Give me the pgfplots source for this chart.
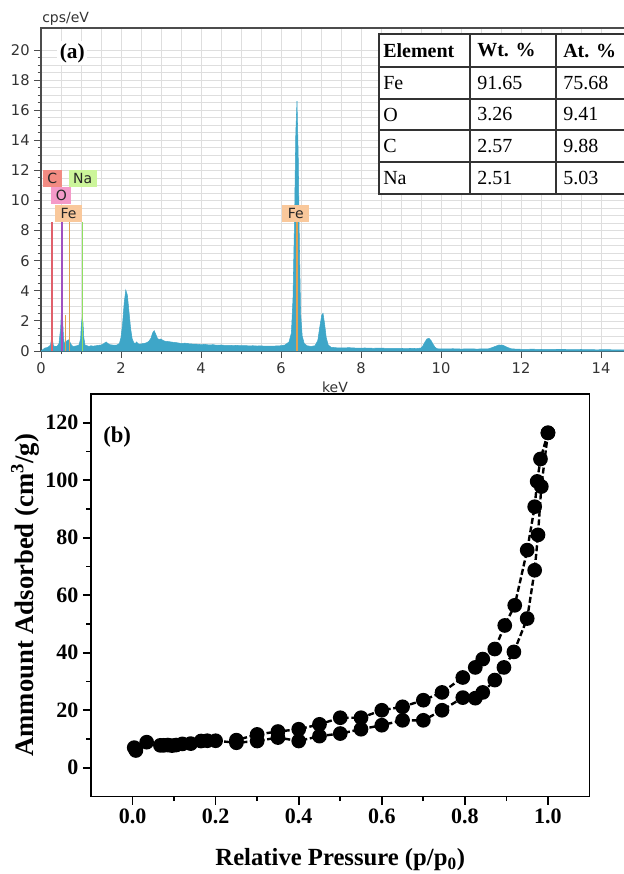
\documentclass[border=0pt]{standalone}
\usepackage{fontspec}
\setmainfont{Liberation Serif}
\newfontfamily\dv{DejaVu Sans}
\usepackage{pgfplots}
\pgfplotsset{compat=1.18}
\definecolor{spec}{HTML}{3EA6C8}
\definecolor{lnC}{HTML}{E0606A}
\definecolor{lnO}{HTML}{A050C0}
\definecolor{lnFe}{HTML}{E0A050}
\definecolor{lnNa}{HTML}{90E060}
\definecolor{bxC}{HTML}{F28B82}
\definecolor{bxO}{HTML}{F49AC8}
\definecolor{bxFe}{HTML}{F9C89B}
\definecolor{bxNa}{HTML}{CCF59A}
\definecolor{gridc}{HTML}{DEDEDE}

\begin{document}
\begin{tikzpicture}
\useasboundingbox (0,0) rectangle (468pt,-655.5pt);
\begin{scope}[x=0.75pt,y=-0.75pt]
  \coordinate (A) at (41,351);
  \coordinate (B) at (91,796.5);
\end{scope}

% ---- (a) EDS spectrum
\begin{axis}[at={(A)},anchor=south west,scale only axis,
  width=442.5pt,height=242.25pt,
  xmin=0,xmax=14.75,ymin=0,ymax=21.46,
  xtick={0,2,...,14},ytick={0,2,...,20},
  minor x tick num=3,minor y tick num=3,
  tick align=outside,tick pos=left,
  major tick length=5pt,minor tick length=2.5pt,
  grid=both,grid style={gridc,line width=0.5pt},
  axis line style={draw=black!70,line width=0.9pt},
  every tick/.style={black!70,line width=0.7pt},
  tick label style={font=\dv\fontsize{11}{12}\selectfont,text=black!80},
  /pgf/number format/assume math mode=true]
  \addplot[fill=spec,draw=spec,line width=0.4pt] coordinates {
    (0.00,0) (0.05,0.1) (0.10,0.2) (0.15,0.22) (0.20,0.3) (0.24,0.4)
    (0.26,0.8) (0.277,0.95) (0.29,0.7) (0.31,0.35) (0.35,0.3) (0.40,0.3)
    (0.45,0.5) (0.49,1.5) (0.51,2.6) (0.525,2.8) (0.54,2.2) (0.56,1.0)
    (0.58,0.5) (0.62,0.6) (0.66,0.7) (0.70,0.75) (0.72,0.6) (0.76,0.4)
    (0.80,0.3) (0.85,0.32) (0.90,0.35) (0.95,0.4) (0.99,0.8) (1.01,1.8)
    (1.03,2.2) (1.05,1.9) (1.07,0.9) (1.10,0.4) (1.15,0.35) (1.20,0.3)
    (1.25,0.35) (1.30,0.32) (1.35,0.34) (1.40,0.36) (1.45,0.38) (1.50,0.4)
    (1.55,0.45) (1.60,0.55) (1.63,0.6) (1.67,0.5) (1.72,0.42) (1.78,0.4)
    (1.84,0.38) (1.90,0.4) (1.96,0.5) (2.00,0.9) (2.04,1.8) (2.08,3.2)
    (2.12,4.05) (2.16,3.7) (2.20,2.6) (2.24,1.5) (2.28,0.8) (2.32,0.55)
    (2.36,0.5) (2.39,0.6) (2.42,0.5) (2.46,0.45) (2.52,0.48) (2.58,0.5)
    (2.64,0.55) (2.70,0.65) (2.75,0.85) (2.79,1.2) (2.83,1.35) (2.87,1.1)
    (2.91,0.85) (2.95,0.75) (3.00,0.8) (3.05,0.7) (3.10,0.65) (3.2,0.62)
    (3.3,0.58) (3.4,0.55) (3.5,0.5) (3.6,0.52) (3.7,0.48) (3.8,0.46)
    (3.9,0.45) (4.0,0.42) (4.1,0.44) (4.2,0.4) (4.3,0.42) (4.4,0.38)
    (4.5,0.4) (4.6,0.37) (4.7,0.38) (4.8,0.36) (4.9,0.37) (5.0,0.35)
    (5.1,0.36) (5.2,0.34) (5.3,0.35) (5.4,0.33) (5.5,0.34) (5.6,0.32)
    (5.7,0.33) (5.8,0.32) (5.9,0.34) (6.0,0.35) (6.1,0.4) (6.2,0.6)
    (6.26,1.2) (6.30,3.5) (6.34,9.0) (6.37,14.5) (6.40,16.6) (6.43,13.0)
    (6.46,7.0) (6.49,2.5) (6.53,1.0) (6.58,0.5) (6.65,0.35) (6.75,0.3)
    (6.85,0.35) (6.92,0.7) (6.97,1.6) (7.02,2.4) (7.05,2.5) (7.09,1.8)
    (7.13,0.9) (7.18,0.4) (7.25,0.25) (7.35,0.22) (7.5,0.2) (7.7,0.22)
    (7.9,0.19) (8.1,0.2) (8.3,0.18) (8.5,0.19) (8.7,0.17) (8.9,0.18)
    (9.1,0.16) (9.3,0.17) (9.4,0.16) (9.5,0.2) (9.55,0.35) (9.6,0.6)
    (9.65,0.8) (9.7,0.84) (9.75,0.7) (9.8,0.45) (9.85,0.25) (9.9,0.15)
    (10.1,0.14) (10.3,0.15) (10.5,0.13) (10.7,0.14) (10.9,0.13) (11.1,0.14)
    (11.2,0.15) (11.3,0.25) (11.4,0.35) (11.45,0.4) (11.55,0.38) (11.65,0.25)
    (11.75,0.15) (11.9,0.12) (12.1,0.11) (12.3,0.12) (12.5,0.1) (12.7,0.11)
    (12.9,0.1) (13.1,0.1) (13.3,0.09) (13.5,0.1) (13.7,0.09) (13.9,0.08)
    (14.1,0.09) (14.3,0.08) (14.5,0.08) (14.75,0.08)} \closedcycle;
  \addplot[ycomb,draw=lnFe,line width=0.8pt] coordinates {(0.615,2.4)};
  \addplot[ycomb,draw=lnC,line width=0.9pt] coordinates {(0.277,8.6)};
  \addplot[ycomb,draw=lnO,line width=0.9pt] coordinates {(0.525,8.6)};
  \addplot[ycomb,draw=lnFe,line width=0.9pt] coordinates {(0.705,8.6) (6.40,8.6)};
  \addplot[ycomb,draw=lnNa,line width=0.9pt] coordinates {(1.04,8.6)};
  \begin{scope}[every node/.style={font=\dv\fontsize{10.5}{12}\selectfont,
      inner sep=1.5pt,minimum height=12.5pt,text=black!85}]
    \node[fill=bxC,minimum width=14pt] at (axis cs:0.28,11.45) {C};
    \node[fill=bxNa,minimum width=21pt] at (axis cs:1.04,11.45) {Na};
    \node[fill=bxO,minimum width=15pt] at (axis cs:0.51,10.33) {O};
    \node[fill=bxFe,minimum width=20pt] at (axis cs:0.69,9.15) {Fe};
    \node[fill=bxFe,minimum width=20pt] at (axis cs:6.37,9.15) {Fe};
  \end{scope}
  \node[fill=white,font=\bfseries\fontsize{16}{18}\selectfont,inner sep=2pt]
    at (axis cs:0.78,19.8) {(a)};
\end{axis}

% ---- table and free labels of (a)
\begin{scope}[x=0.75pt,y=-0.75pt]
  \node[anchor=south west,font=\dv\fontsize{10.5}{12}\selectfont,text=black!80,inner sep=0pt]
    at (42,26) {cps/eV};
  \node[font=\dv\fontsize{10.5}{12}\selectfont,text=black!80] at (335,387) {keV};
  \fill[white] (379,34) rectangle (640,194);
  \draw[black!80,line width=0.9pt] (379,34) rectangle (640,194);
  \foreach \yy in {67,99,130,162} \draw[black!80,line width=0.9pt] (379,\yy) -- (640,\yy);
  \foreach \xx in {470,556} \draw[black!80,line width=0.9pt] (\xx,34) -- (\xx,194);
  \begin{scope}[every node/.style={anchor=west,inner sep=0pt,font=\fontsize{15}{17}\selectfont}]
    \node[font=\bfseries\fontsize{15}{17}\selectfont] at (383,50.5) {Element};
    \node[font=\bfseries\fontsize{15}{17}\selectfont] at (477,50.5) {Wt. \%};
    \node[font=\bfseries\fontsize{15}{17}\selectfont] at (563,50.5) {At. \%};
    \node at (383,83) {Fe};   \node at (477,83) {91.65};  \node at (563,83) {75.68};
    \node at (383,114.5) {O}; \node at (477,114.5) {3.26}; \node at (563,114.5) {9.41};
    \node at (383,146) {C};   \node at (477,146) {2.57};  \node at (563,146) {9.88};
    \node at (383,178) {Na};  \node at (477,178) {2.51};  \node at (563,178) {5.03};
  \end{scope}
\end{scope}

% ---- (b) N2 isotherm
\begin{axis}[at={(B)},anchor=south west,scale only axis,
  width=373.875pt,height=301.875pt,
  xmin=-0.1,xmax=1.1,ymin=-10,ymax=130,
  xtick={0,0.2,0.4,0.6,0.8,1.0},ytick={0,20,...,120},
  minor x tick num=1,minor y tick num=1,
  tick align=outside,tick pos=left,
  major tick length=6pt,minor tick length=3.5pt,
  axis line style={line width=1.3pt},
  every tick/.style={black,line width=1.3pt},
  tick label style={font=\bfseries\fontsize{16.5}{18}\selectfont},
  xticklabel style={/pgf/number format/.cd,fixed,fixed zerofill,precision=1},
  /pgf/number format/assume math mode=true,
  xlabel={Relative Pressure (p/p\textsubscript{0})},
  ylabel={Ammount Adsorbed (cm\textsuperscript{3}/g)},
  xlabel style={font=\bfseries\fontsize{18.5}{20}\selectfont,
    at={(axis description cs:0.5,0)},anchor=center,yshift=-47.6pt},
  ylabel style={font=\bfseries\fontsize{20}{22}\selectfont,
    at={(axis description cs:-0.132,0.5)},anchor=center}]
  \addplot[black,line width=1.8pt,dash pattern=on 4.5pt off 2pt,
    mark=*,mark size=4.6pt,mark options={solid,fill=black}] coordinates {
    (0.004,7.0) (0.008,6.0) (0.034,8.9) (0.067,7.8) (0.075,7.8) (0.085,7.9)
    (0.095,7.7) (0.105,7.9) (0.12,8.3) (0.14,8.4) (0.165,9.3) (0.18,9.4)
    (0.20,9.4) (0.25,8.7) (0.30,9.3) (0.35,10.5) (0.40,9.3) (0.45,11.0)
    (0.50,11.9) (0.55,13.4) (0.60,14.8) (0.65,16.5) (0.70,16.5) (0.745,20.0)
    (0.795,24.4) (0.825,24.2) (0.843,26.2) (0.872,30.5) (0.894,34.9)
    (0.918,40.3) (0.950,51.9) (0.968,68.7) (0.976,81.0) (0.984,97.8)
    (1.0,116.5)};
  \addplot[black,line width=1.8pt,dash pattern=on 4.5pt off 2pt,
    mark=*,mark size=4.6pt,mark options={solid,fill=black}] coordinates {
    (1.0,116.5) (0.982,107.4) (0.974,99.6) (0.968,90.8) (0.950,75.7)
    (0.920,56.5) (0.896,49.5) (0.872,41.3) (0.843,37.8) (0.825,34.9)
    (0.795,31.4) (0.745,26.2) (0.70,23.5) (0.65,21.2) (0.60,20.0)
    (0.55,17.4) (0.50,17.4) (0.45,15.1) (0.40,13.4) (0.35,12.6)
    (0.30,11.6) (0.25,9.6)};
  \node[font=\bfseries\fontsize{17}{19}\selectfont] at (axis cs:-0.037,115.2) {(b)};
\end{axis}
\end{tikzpicture}
\end{document}
